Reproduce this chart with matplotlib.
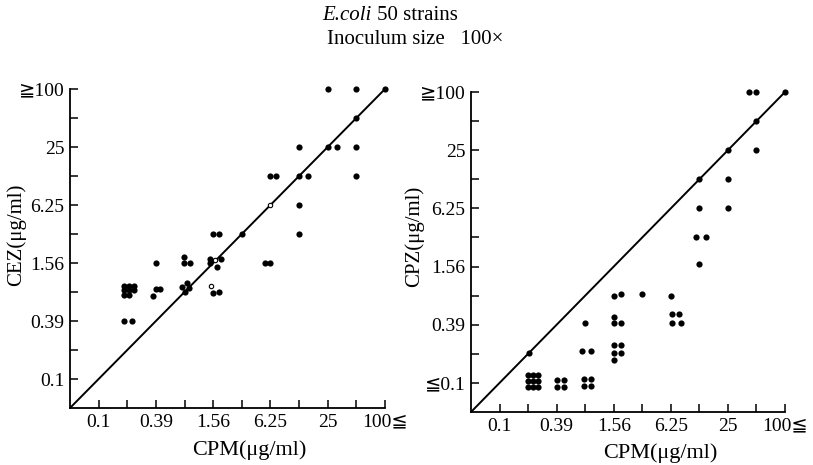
import numpy as np
import matplotlib
matplotlib.use("Agg")
import matplotlib.pyplot as plt

plt.rcParams['font.family'] = ['Liberation Serif', 'DejaVu Serif', 'DejaVu Sans']

# MIC values (ug/ml), two-fold dilution steps from 0.1 to >=100
steps = [100 / 2 ** (11 - k) for k in range(1, 12)]
x_labels = ["0.1", "", "0.39", "", "1.56", "", "6.25", "", "25", "", "100≦"]
y_labels_cez = ["0.1", "", "0.39", "", "1.56", "", "6.25", "", "25", "", "≧100"]
y_labels_cpz = ["≦0.1", "", "0.39", "", "1.56", "", "6.25", "", "25", "", "≧100"]

# CPM vs CEZ, 50 strains
cpm_a = [25, 50, 100, 50, 25, 31, 50, 50, 12.5, 6.25, 7.2, 12.5, 15.4, 12.5, 12.5,
         3.13, 1.56, 1.8, 0.39, 0.78, 0.78, 0.9, 1.45, 1.45, 1.89, 1.72,
         5.44, 6.25, 0.36, 0.39, 0.43, 0.73, 0.82, 0.79, 0.88, 1.54, 1.78,
         0.18, 0.22, 0.18, 0.202, 0.228, 0.18, 0.202, 0.228, 0.18, 0.202]
cez = [100, 100, 100, 50, 25, 25, 25, 12.5, 25, 12.5, 12.5, 12.5, 12.5, 6.25, 3.13,
       3.13, 3.13, 3.13, 1.56, 1.8, 1.56, 1.56, 1.73, 1.56, 1.73, 1.43,
       1.56, 1.56, 0.71, 0.84, 0.84, 0.88, 0.98, 0.78, 0.85, 0.77, 0.79,
       0.39, 0.39, 0.9, 0.9, 0.9, 0.81, 0.81, 0.81, 0.73, 0.73]
# points partly covered by the diagonal (drawn open)
cpm_a_open = [6.25, 1.62, 1.47]
cez_open = [6.25, 1.68, 0.91]

# CPM vs CPZ, 50 strains
cpm_b = [42, 50, 100, 50, 25, 50, 12.5, 25, 12.5, 25, 11.5, 14.6, 12.5,
         1.56, 1.86, 3.13, 6.25, 6.4, 7.7, 6.4, 7.97, 0.78, 1.56, 1.56, 1.85,
         0.73, 0.89, 1.56, 1.85, 1.56, 1.85, 1.56, 0.2,
         0.196, 0.221, 0.25, 0.196, 0.221, 0.25, 0.196, 0.221, 0.25,
         0.39, 0.47, 0.39, 0.47, 0.76, 0.9, 0.76, 0.9]
cpz = [100, 100, 100, 50, 25, 25, 12.5, 12.5, 6.25, 6.25, 3.13, 3.13, 1.67,
       0.78, 0.81, 0.81, 0.78, 0.5, 0.5, 0.41, 0.41, 0.41, 0.47, 0.41, 0.41,
       0.21, 0.21, 0.24, 0.24, 0.2, 0.2, 0.17, 0.2,
       0.118, 0.118, 0.118, 0.102, 0.102, 0.102, 0.088, 0.088, 0.088,
       0.105, 0.105, 0.088, 0.088, 0.106, 0.106, 0.091, 0.091]

lo = 100 / 2048

fig = plt.figure(figsize=(8.13, 4.65), dpi=100)
ax1 = fig.add_axes([70 / 813, 1 - 408 / 465, 315 / 813, 319 / 465])
ax2 = fig.add_axes([471 / 813, 1 - 412 / 465, 314 / 813, 320 / 465])


def setup(ax, ylabels):
    ax.set_xscale('log', base=2)
    ax.set_yscale('log', base=2)
    ax.set_xlim(lo, 100)
    ax.set_ylim(lo, 100)
    ax.plot([lo, 100], [lo, 100], color='black', lw=1.4, zorder=1)
    for s in ['top', 'right']:
        ax.spines[s].set_visible(False)
    for s in ['left', 'bottom']:
        ax.spines[s].set_linewidth(1.3)
    ax.set_xticks(steps)
    ax.set_yticks(steps)
    ax.set_xticklabels(x_labels)
    ax.set_yticklabels(ylabels)
    ax.minorticks_off()
    ax.tick_params(direction='in', length=6, width=1.1, labelsize=14, pad=4)


setup(ax1, y_labels_cez)
ax1.scatter(cpm_a, cez, s=20, c='black', lw=0, zorder=3, clip_on=False)
ax1.scatter(cpm_a_open, cez_open, s=10, facecolors='white', edgecolors='black',
            lw=0.8, zorder=3, clip_on=False)

setup(ax2, y_labels_cpz)
ax2.scatter(cpm_b, cpz, s=20, c='black', lw=0, zorder=3, clip_on=False)

fig.text(249 / 813, 1 - 450 / 465, "CPM(μg/ml)", fontsize=16, ha='center', va='center')
fig.text(660 / 813, 1 - 453 / 465, "CPM(μg/ml)", fontsize=16, ha='center', va='center')
fig.text(16 / 813, 1 - 235 / 465, "CEZ(μg/ml)", fontsize=15, rotation=90, ha='center', va='center')
fig.text(414 / 813, 1 - 236 / 465, "CPZ(μg/ml)", fontsize=15, rotation=90, ha='center', va='center')

fig.text(322 / 813, 1 - 16 / 465, "E.coli", fontsize=15, style='italic', ha='left', va='center')
fig.text(377 / 813, 1 - 16 / 465, "50 strains", fontsize=15, ha='left', va='center')
fig.text(327 / 813, 1 - 40 / 465, "Inoculum size   100×", fontsize=15, ha='left', va='center')

fig.savefig('out.png', dpi=100)
